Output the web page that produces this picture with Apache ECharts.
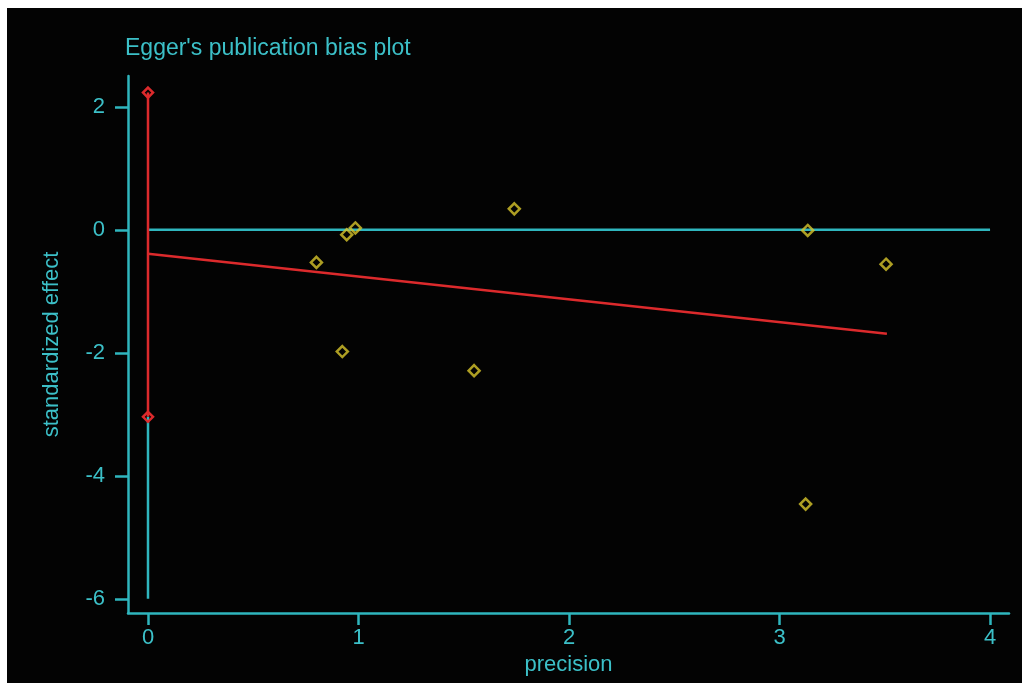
<!DOCTYPE html>
<html>
<head>
<meta charset="utf-8">
<script src="https://cdn.jsdelivr.net/npm/echarts@6/dist/echarts.min.js"></script>
<style>
  html, body { margin: 0; padding: 0; background: #ffffff; width: 1022px; height: 683px; overflow: hidden; }
  #chart { position: absolute; left: 7px; top: 8px; width: 1015px; height: 675px; }
</style>
</head>
<body>
<div id="chart"></div>
<script>
// Study points: precision (1/SE) and standardized effect (effect/SE)
const precision = [0.80, 0.944, 0.985, 1.74, 0.923, 1.549, 3.134, 3.506, 3.124];
const stdEffect = [-0.53, -0.08, 0.03, 0.34, -1.98, -2.29, -0.01, -0.56, -4.46];

// Egger regression line (intercept at precision 0, end at max precision)
const regX = [0, 3.51];
const regY = [-0.39, -1.69];

// Confidence interval of the intercept
const ciLow = -3.04;
const ciHigh = 2.23;

// Reference lines
const zeroLineX = [0, 4];
const vertLineBottom = -6;

// Axis ticks and ranges
const xTicks = [0, 1, 2, 3, 4];
const yTicks = [-6, -4, -2, 0, 2];
const xRange = [-0.095, 4.09];
const yRange = [-6.23, 2.5];

const cyan = '#2fb6be';
const cyanText = '#3cc0c8';
const red = '#dc2a2c';
const yellow = '#d8c62c';
const font = 'Liberation Sans, Arial, sans-serif';

const chart = echarts.init(document.getElementById('chart'));

const pts = precision.map((x, i) => [x, stdEffect[i]]);

chart.setOption({
  backgroundColor: '#030303',
  animation: false,
  title: {
    text: "Egger's publication bias plot",
    left: 113,
    top: 24,
    textStyle: { color: cyanText, fontFamily: font, fontSize: 23, fontWeight: 'normal' }
  },
  grid: { left: 121, right: 13, top: 68, bottom: 70 },
  xAxis: {
    type: 'value',
    min: xRange[0],
    max: xRange[1],
    name: 'precision',
    nameLocation: 'middle',
    nameGap: 35,
    nameTextStyle: { color: cyanText, fontFamily: font, fontSize: 22 },
    axisLine: { show: true, onZero: false, lineStyle: { color: cyan, width: 2.5 } },
    axisTick: { show: true, length: 12, lineStyle: { color: cyan, width: 2.5 }, customValues: xTicks },
    axisLabel: { color: cyanText, fontFamily: font, fontSize: 22, margin: 14, customValues: xTicks },
    splitLine: { show: false }
  },
  yAxis: {
    type: 'value',
    min: yRange[0],
    max: yRange[1],
    name: 'standardized effect',
    nameLocation: 'middle',
    nameGap: 65,
    nameTextStyle: { color: cyanText, fontFamily: font, fontSize: 22 },
    axisLine: { show: true, onZero: false, lineStyle: { color: cyan, width: 2.5 } },
    axisTick: { show: true, length: 13, lineStyle: { color: cyan, width: 2.5 }, customValues: yTicks },
    axisLabel: { color: cyanText, fontFamily: font, fontSize: 22, margin: 23, customValues: yTicks },
    splitLine: { show: false }
  },
  series: [
    {
      name: 'zero',
      type: 'line',
      data: zeroLineX.map(x => [x, 0]),
      symbol: 'none',
      lineStyle: { color: cyan, width: 2.5 },
      z: 1
    },
    {
      name: 'vertical',
      type: 'line',
      data: [[0, vertLineBottom], [0, ciLow]],
      symbol: 'none',
      lineStyle: { color: cyan, width: 2.5 },
      z: 1
    },
    {
      name: 'ci',
      type: 'line',
      data: [[0, ciLow], [0, ciHigh]],
      symbol: 'diamond',
      symbolSize: 10,
      showSymbol: true,
      itemStyle: { color: 'transparent', borderColor: red, borderWidth: 2.5 },
      lineStyle: { color: red, width: 2.5 },
      z: 3
    },
    {
      name: 'regression',
      type: 'line',
      data: regX.map((x, i) => [x, regY[i]]),
      symbol: 'none',
      lineStyle: { color: red, width: 2.5 },
      z: 2
    },
    {
      name: 'studies',
      type: 'scatter',
      data: pts,
      symbol: 'diamond',
      symbolSize: 11,
      itemStyle: { color: 'transparent', borderColor: yellow, borderWidth: 2.5 },
      z: 4
    }
  ]
});
</script>
</body>
</html>
